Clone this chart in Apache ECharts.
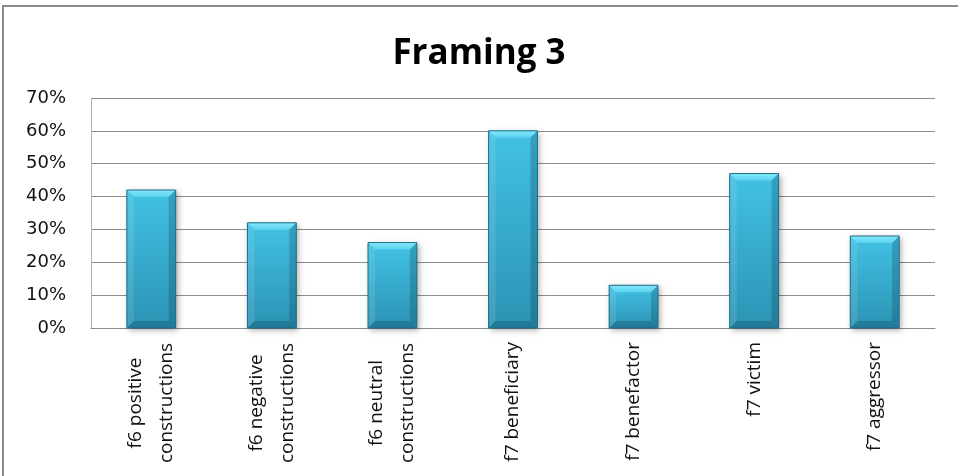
<!DOCTYPE html>
<html>
<head>
<meta charset="utf-8">
<script src="https://cdn.jsdelivr.net/npm/echarts@6/dist/echarts.min.js"></script>
<style>
  html, body { margin: 0; padding: 0; background: #fff; }
  #chart { width: 958px; height: 476px; }
</style>
</head>
<body>
<div id="chart"></div>
<script>
// Framing 3 — share of each construction / role
const titleText = 'Framing 3';
const categories = [
  'f6 positive\nconstructions',
  'f6 negative\nconstructions',
  'f6 neutral\nconstructions',
  'f7 beneficiary',
  'f7 benefactor',
  'f7 victim',
  'f7 aggressor'
];
const values = [42, 32, 26, 60, 13, 47, 28];
const yTicks = { min: 0, max: 70, step: 10 };

const labelFont = 'Open Sans';
const labelSize = 19;

// widest line of a wrapped label, so the shorter line can be centred under it
const measureCtx = document.createElement('canvas').getContext('2d');
measureCtx.font = labelSize + 'px "' + labelFont + '"';
function lineWidth(s) { return Math.ceil(measureCtx.measureText(s).width) + 1; }

const chart = echarts.init(document.getElementById('chart'), null, { renderer: 'canvas' });

// Bevelled column drawn from the value via the axis scales
function renderBar(params, api) {
  const idx = api.value(0);
  const val = api.value(1);
  const top = api.coord([idx, val]);
  const base = api.coord([idx, 0]);
  const w = api.size([1, 0])[0] * 0.405;
  const x0 = top[0] - w / 2, x1 = top[0] + w / 2;
  const y0 = top[1], y1 = base[1];
  const b = Math.min(7, (y1 - y0) / 3);
  const G = echarts.graphic;
  return {
    type: 'group',
    children: [
      { type: 'rect', shape: { x: x0, y: y0, width: w, height: y1 - y0 },
        style: { fill: '#2f9cbf', shadowBlur: 6, shadowOffsetX: 2, shadowOffsetY: 2, shadowColor: 'rgba(0,0,0,0.35)' } },
      { type: 'rect', shape: { x: x0, y: y0, width: w, height: y1 - y0 },
        style: { fill: new G.LinearGradient(0, 0, 0, 1, [
          { offset: 0, color: '#42c2e4' }, { offset: 1, color: '#2c93b4' }]) } },
      { type: 'polygon', shape: { points: [[x0, y0], [x1, y0], [x1 - b, y0 + b], [x0 + b, y0 + b]] },
        style: { fill: new G.LinearGradient(0, 0, 0, 1, [
          { offset: 0, color: '#86e9fa' }, { offset: 1, color: '#58d2ef' }]) } },
      { type: 'polygon', shape: { points: [[x0, y0], [x0 + b, y0 + b], [x0 + b, y1 - b], [x0, y1]] },
        style: { fill: 'rgba(255,255,255,0.10)' } },
      { type: 'polygon', shape: { points: [[x1, y0], [x1 - b, y0 + b], [x1 - b, y1 - b], [x1, y1]] },
        style: { fill: 'rgba(0,40,60,0.22)' } },
      { type: 'polygon', shape: { points: [[x0, y1], [x0 + b, y1 - b], [x1 - b, y1 - b], [x1, y1]] },
        style: { fill: 'rgba(0,40,60,0.24)' } },
      { type: 'rect', shape: { x: x0, y: y0, width: w, height: y1 - y0 },
        style: { fill: null, stroke: '#1f6d87', lineWidth: 1 } }
    ]
  };
}

function wrapLabel(v) {
  const lines = v.split('\n');
  if (lines.length === 1) return v;
  return lines.map(s => '{c|' + s + '}').join('\n');
}
const widest = Math.max.apply(null, categories
  .filter(c => c.indexOf('\n') >= 0)
  .map(c => Math.max.apply(null, c.split('\n').map(lineWidth))));

chart.setOption({
  animation: false,
  backgroundColor: '#fff',
  title: {
    text: titleText,
    left: 'center',
    top: 32,
    textStyle: { fontFamily: 'Open Sans', fontWeight: 'bold', fontSize: 35, color: '#000' }
  },
  graphic: [{
    type: 'rect',
    shape: { x: 3, y: 6, width: 1200, height: 800 },
    style: { fill: null, stroke: '#8a8a8a', lineWidth: 2 },
    silent: true
  }],
  grid: { left: 91, right: 23, top: 98, bottom: 148 },
  xAxis: {
    type: 'category',
    data: categories,
    axisLine: { show: true, lineStyle: { color: '#8c8c8c', width: 1 } },
    axisTick: { show: false },
    axisLabel: {
      interval: 0,
      rotate: 90,
      margin: 14,
      color: '#111',
      fontFamily: labelFont,
      fontSize: labelSize,
      lineHeight: 31,
      formatter: wrapLabel,
      rich: { c: { width: widest, align: 'center', fontFamily: labelFont, fontSize: labelSize, lineHeight: 31, color: '#111' } }
    }
  },
  yAxis: {
    type: 'value',
    min: yTicks.min,
    max: yTicks.max,
    interval: yTicks.step,
    axisLine: { show: true, lineStyle: { color: '#b0b0b0', width: 1 } },
    axisTick: { show: false },
    splitLine: { lineStyle: { color: '#8c8c8c', width: 1 } },
    axisLabel: {
      formatter: '{value}%',
      margin: 25,
      color: '#111',
      fontFamily: 'DejaVu Sans',
      fontSize: 18
    }
  },
  series: [{
    type: 'custom',
    renderItem: renderBar,
    data: values.map((v, i) => [i, v]),
    encode: { x: 0, y: 1 }
  }]
});
</script>
</body>
</html>
